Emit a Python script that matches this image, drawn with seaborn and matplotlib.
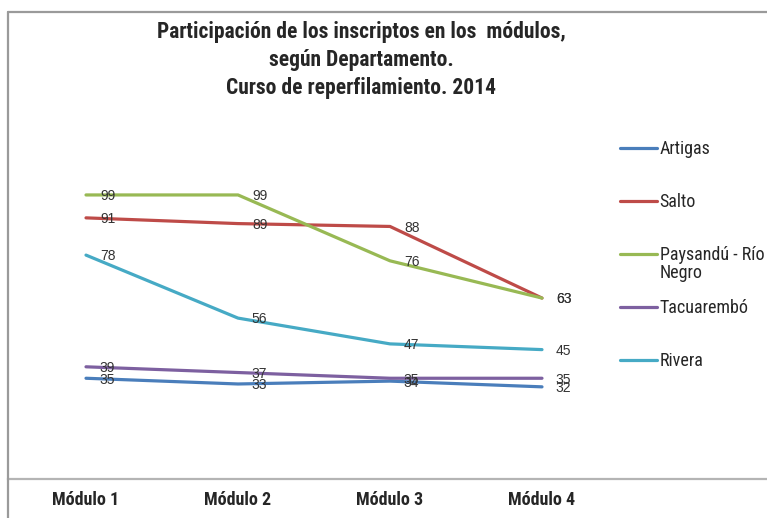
import matplotlib
matplotlib.use("Agg")
import matplotlib.pyplot as plt
from matplotlib.lines import Line2D
import pandas as pd
import seaborn as sns

modulos = ["Módulo 1", "Módulo 2", "Módulo 3", "Módulo 4"]
departamentos = ["Artigas", "Salto", "Paysandú - Río Negro", "Tacuarembó", "Rivera"]
artigas = [35, 33, 34, 32]
salto = [91, 89, 88, 63]
paysandu = [99, 99, 76, 63]
tacuarembo = [39, 37, 35, 35]
rivera = [78, 56, 47, 45]
colores = ["#4A7EBB", "#BE4B48", "#98B954", "#7D60A0", "#46AAC5"]

titulo = "Participación de los inscriptos en los  módulos,\nsegún Departamento.\nCurso de reperfilamiento. 2014"

narrow = ["Roboto Condensed", "PT Sans Narrow", "DejaVu Sans"]

sns.set_style("white")
plt.rcParams["font.family"] = ["Liberation Sans", "DejaVu Sans"]

series = [artigas, salto, paysandu, tacuarembo, rivera]
rows = []
for dep, vals in zip(departamentos, series):
    for i, v in enumerate(vals):
        rows.append({"Departamento": dep, "pos": i, "valor": v})
df = pd.DataFrame(rows)

W, H = 767, 518
fig = plt.figure(figsize=(W / 100, H / 100), dpi=100)
# axes: left edge at frame (x=8), bottom at the category axis (y=478.5), top = 120
ax = fig.add_axes([8 / W, (H - 478.5) / H, (W - 8) / W, 343.7 / H])

sns.lineplot(data=df, x="pos", y="valor", hue="Departamento", hue_order=departamentos,
             palette=colores, linewidth=2.3, sort=False, ax=ax, legend=True)

ax.set_xlim(-0.5 - 2 / 152, 3 + (W - 542) / 152)
ax.set_ylim(0, 120)
ax.set_xticks(range(len(modulos)))
ax.set_xticklabels(modulos, fontsize=13, fontweight="bold", family=narrow)
ax.tick_params(axis="x", length=0, pad=9)
ax.set_yticks([])
ax.set_xlabel("")
ax.set_ylabel("")
for s in ["top", "right", "left"]:
    ax.spines[s].set_visible(False)
ax.spines["bottom"].set_color("#b4b4b4")
ax.spines["bottom"].set_linewidth(1.6)

# data labels
for vals in series:
    for i, v in enumerate(vals):
        ax.annotate(str(v), (i, v), xytext=(10, -1), textcoords="offset points",
                    ha="left", va="center", fontsize=10, color="#333333")

# legend
handles, labels = ax.get_legend_handles_labels()
labels = ["Paysandú - Río" if l == "Paysandú - Río Negro" else l for l in labels]
leg = ax.legend(handles, labels, loc="upper left", bbox_to_anchor=((620 - 8) / (W - 8), (478.5 - 140) / 343.7),
                frameon=False, borderpad=0, borderaxespad=0, labelspacing=1.94,
                handlelength=2.05, handletextpad=0.15, prop={"family": narrow, "size": 13})
for line in leg.get_lines():
    line.set_linewidth(2.3)
txt = leg.get_texts()[2]
ax.annotate("Negro", xy=(0, 0), xycoords=txt, xytext=(0, 0), textcoords="offset points",
            ha="left", va="top", fontsize=13, family=narrow, zorder=10)

# title
fig.text(361 / W, 1 - 60 / H, titulo, ha="center", va="center", fontsize=15.5,
         fontweight="bold", family=narrow, linespacing=1.33)

# outer chart frame
fig.add_artist(Line2D([8 / W, 1], [1 - 12 / H, 1 - 12 / H], color="#9a9a9a", linewidth=1.6))
fig.add_artist(Line2D([8 / W, 8 / W], [0, 1 - 12 / H], color="#9a9a9a", linewidth=1.6))

fig.savefig("out.png", dpi=100)
